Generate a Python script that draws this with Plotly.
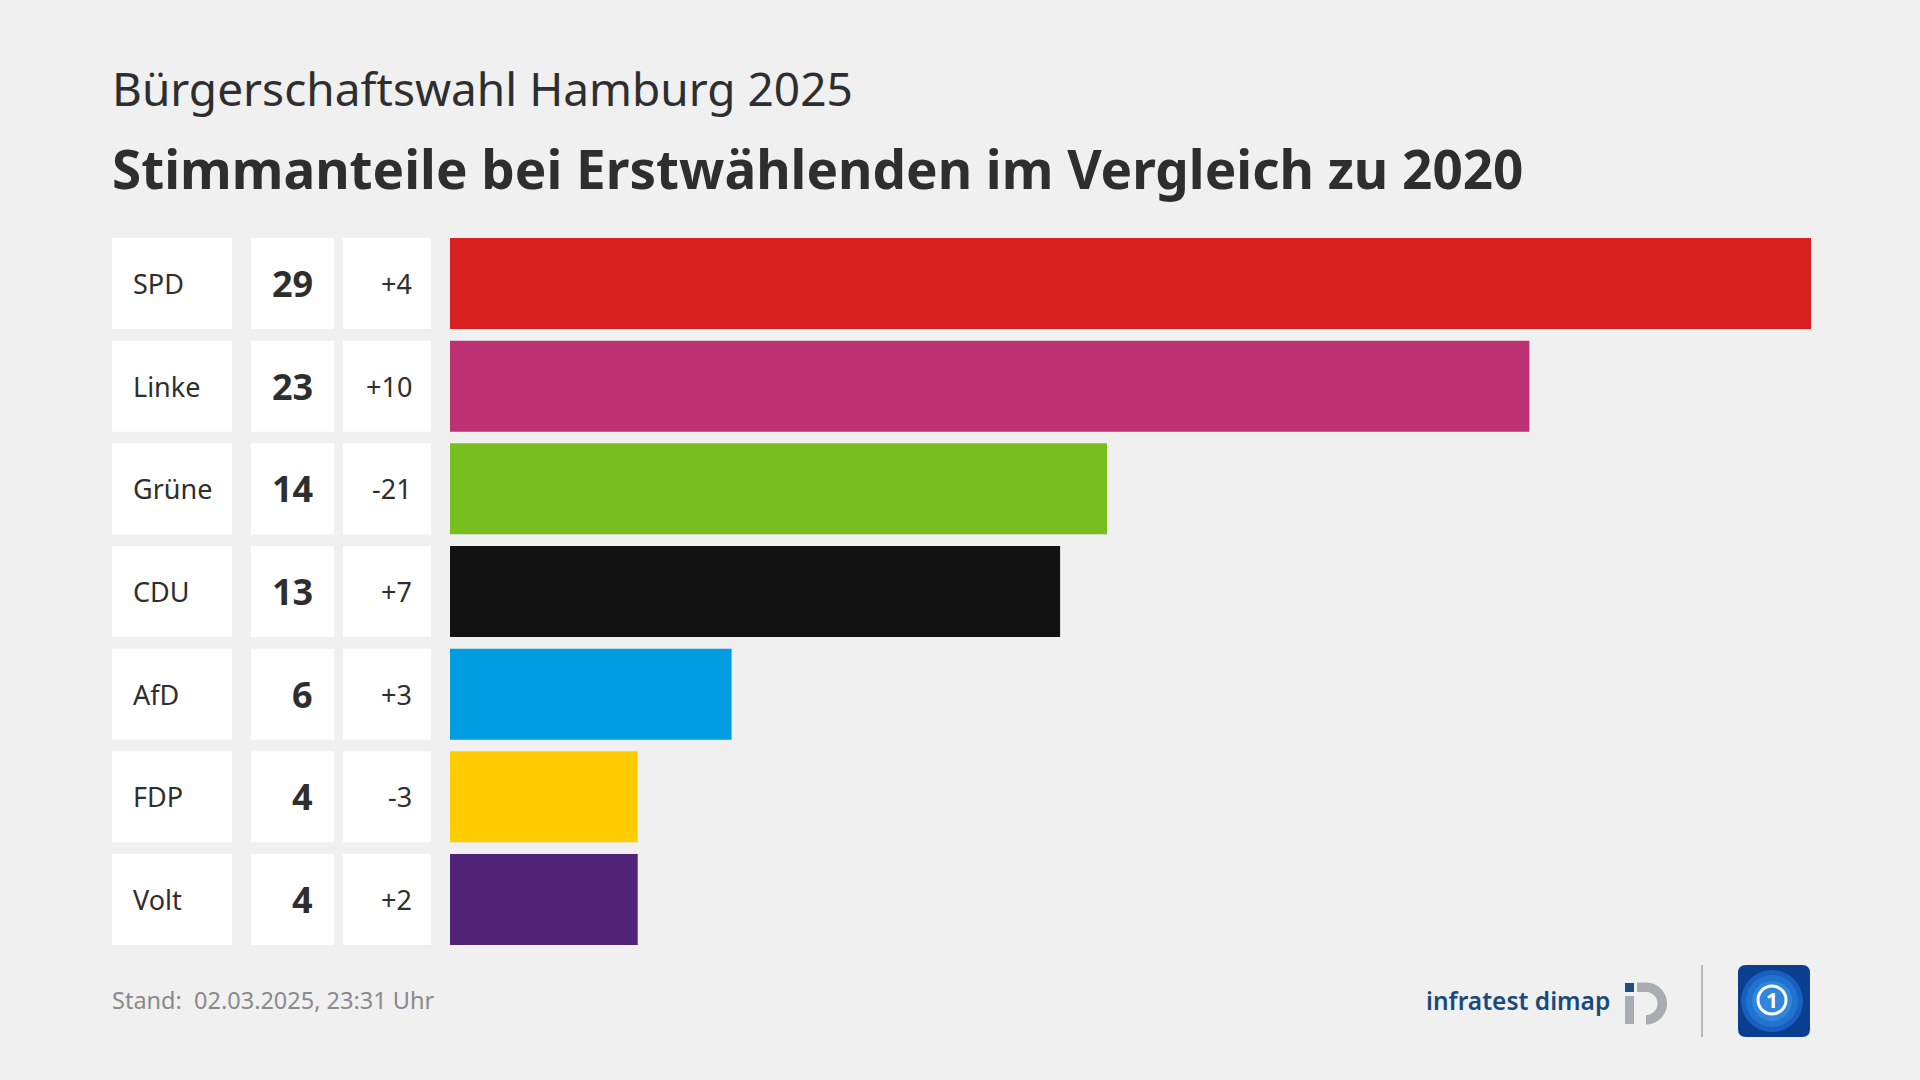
import numpy as np
import plotly.graph_objects as go

# ---------------- data ----------------
parties = ["SPD", "Linke", "Grüne", "CDU", "AfD", "FDP", "Volt"]
shares = [29, 23, 14, 13, 6, 4, 4]
changes = ["+4", "+10", "-21", "+7", "+3", "-3", "+2"]
colors = ["#d82020", "#bc3174", "#78be1e", "#121212", "#009ee0", "#ffcc00", "#502379"]

title_top = "Bürgerschaftswahl Hamburg 2025"
title_main = "Stimmanteile bei Erstwählenden im Vergleich zu 2020"
footer_text = "Stand:&nbsp; 02.03.2025, 23:31 Uhr"
brand_text = "infratest dimap"

# ---------------- layout helpers ----------------
W, H = 1920, 1080
FONT = "Noto Sans"
TXT = "#2e2e2e"
BG = "#f0f0f0"


def px(x):
    return x / W


def py(y):
    return 1 - y / H


def poly(points, close=False):
    s = "M " + " L ".join(f"{px(x):.5f},{py(y):.5f}" for x, y in points)
    return s + (" Z" if close else "")


n = len(parties)
pitch = 102.67
barh = 91
w = barh / pitch
top_px, bottom_px = 238, 945

fig = go.Figure(
    go.Bar(
        x=shares,
        y=list(range(n)),
        orientation="h",
        width=w,
        marker=dict(color=colors, line_width=0),
        hoverinfo="skip",
    )
)

fig.update_layout(
    width=W,
    height=H,
    margin=dict(l=0, r=0, t=0, b=0),
    paper_bgcolor=BG,
    plot_bgcolor="rgba(0,0,0,0)",
    showlegend=False,
    xaxis=dict(domain=[px(450), px(1811)], range=[0, max(shares)], visible=False, fixedrange=True),
    yaxis=dict(domain=[py(bottom_px), py(top_px)], range=[n - 1 + w / 2, -w / 2],
               visible=False, fixedrange=True),
)

shapes = []
annotations = []

# white cells
cells = [(112, 232), (251, 334), (343, 431)]
for i in range(n):
    for x0, x1 in cells:
        shapes.append(dict(type="rect", xref="paper", yref="y", x0=px(x0), x1=px(x1),
                           y0=i - w / 2, y1=i + w / 2, fillcolor="#ffffff", line_width=0,
                           layer="below"))
    annotations.append(dict(xref="paper", yref="y", x=px(131), y=i, text=parties[i],
                            xanchor="left", yanchor="middle", showarrow=False,
                            font=dict(family=FONT, size=27, color=TXT)))
    annotations.append(dict(xref="paper", yref="y", x=px(315), y=i, text=f"<b>{shares[i]}</b>",
                            xanchor="right", yanchor="middle", showarrow=False,
                            font=dict(family=FONT, size=36, color=TXT)))
    annotations.append(dict(xref="paper", yref="y", x=px(414), y=i, text=changes[i],
                            xanchor="right", yanchor="middle", showarrow=False,
                            font=dict(family=FONT, size=27, color=TXT)))

# titles
annotations.append(dict(xref="paper", yref="paper", x=px(110), y=py(88), text=title_top,
                        xanchor="left", yanchor="middle", showarrow=False,
                        font=dict(family=FONT, size=46, color=TXT)))
annotations.append(dict(xref="paper", yref="paper", x=px(110), y=py(168),
                        text=f"<b>{title_main}</b>",
                        xanchor="left", yanchor="middle", showarrow=False,
                        font=dict(family=FONT, size=53, color=TXT)))

# footer
annotations.append(dict(xref="paper", yref="paper", x=px(110), y=py(1000), text=footer_text,
                        xanchor="left", yanchor="middle", showarrow=False,
                        font=dict(family=FONT, size=23.5, color="#8a8a8a")))

# infratest dimap logo
annotations.append(dict(xref="paper", yref="paper", x=px(1612), y=py(1000), text=brand_text,
                        xanchor="right", yanchor="middle", showarrow=False,
                        font=dict(family=FONT, size=24.5, color="#1a4a7c", weight=600)))
shapes.append(dict(type="rect", xref="paper", yref="paper", x0=px(1625), x1=px(1634),
                   y0=py(992), y1=py(983), fillcolor="#1d4e7e", line_width=0))
shapes.append(dict(type="rect", xref="paper", yref="paper", x0=px(1625), x1=px(1634),
                   y0=py(1024), y1=py(996), fillcolor="#a9adb1", line_width=0))
cx, cy = 1646, 1003.5
ro, ri = 21, 11.5
ang = np.linspace(-np.pi / 2, np.pi / 2, 30)
outer = [(1637, cy - ro)] + [(cx + ro * np.cos(a), cy + ro * np.sin(a)) for a in ang]
inner = [(cx + ri * np.cos(a), cy + ri * np.sin(a)) for a in ang[::-1]] + [(1637, cy - ri)]
shapes.append(dict(type="path", xref="paper", yref="paper", path=poly(outer + inner, True),
                   fillcolor="#a9adb1", line_width=0))

# divider
shapes.append(dict(type="line", xref="paper", yref="paper", x0=px(1702), x1=px(1702),
                   y0=py(965), y1=py(1037), line=dict(color="#b8b8b8", width=2)))

# tagesschau-like logo
x0, x1, y0, y1, rr = 1738, 1810, 965, 1037, 8
rp = (f"M {px(x0+rr)},{py(y0)} L {px(x1-rr)},{py(y0)} Q {px(x1)},{py(y0)} {px(x1)},{py(y0+rr)} "
      f"L {px(x1)},{py(y1-rr)} Q {px(x1)},{py(y1)} {px(x1-rr)},{py(y1)} "
      f"L {px(x0+rr)},{py(y1)} Q {px(x0)},{py(y1)} {px(x0)},{py(y1-rr)} "
      f"L {px(x0)},{py(y0+rr)} Q {px(x0)},{py(y0)} {px(x0+rr)},{py(y0)} Z")
shapes.append(dict(type="path", xref="paper", yref="paper", path=rp,
                   fillcolor="#0a3f8f", line_width=0))
for rad, col in [(31, "#1760c0"), (26, "#2272d0"), (20, "#2f86dc")]:
    shapes.append(dict(type="circle", xref="paper", yref="paper", x0=px(1772 - rad),
                       x1=px(1772 + rad), y0=py(1001 + rad), y1=py(1001 - rad),
                       fillcolor=col, line_width=0))
shapes.append(dict(type="circle", xref="paper", yref="paper", x0=px(1758), x1=px(1786),
                   y0=py(1014), y1=py(986), fillcolor="rgba(0,0,0,0)",
                   line=dict(color="#ffffff", width=3)))
annotations.append(dict(xref="paper", yref="paper", x=px(1772), y=py(1000), text="<b>1</b>",
                        xanchor="center", yanchor="middle", showarrow=False,
                        font=dict(family=FONT, size=21, color="#ffffff")))

fig.update_layout(shapes=shapes, annotations=annotations)

fig.write_html("out.html", config={"displayModeBar": False},
               post_script="document.body.style.margin='0';")
